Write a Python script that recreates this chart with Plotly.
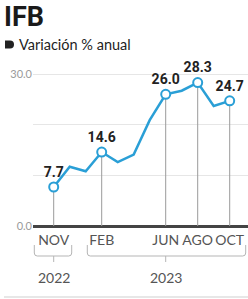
import plotly.graph_objects as go

# Data
months = ["NOV", "DIC", "ENE", "FEB", "MAR", "ABR", "MAY", "JUN", "JUL", "AGO", "SEP", "OCT"]
values = [7.7, 11.7, 10.8, 14.6, 12.6, 14.1, 20.9, 26.0, 26.7, 28.3, 23.7, 24.7]
labeled_idx = [0, 3, 7, 9, 11]
tick_labels = ["NOV", "FEB", "JUN", "AGO", "OCT"]
years = ["2022", "2023"]
year_center_idx = [0, 7]
y_ticks = [0, 10, 20, 30]
y_ticktext = ["0.0", "", "", "30.0"]

BLUE = "#2a9fd6"
GRAY = "#9a9a9a"
FONT = "Lato"

x_all = list(range(len(months)))
lab_x = labeled_idx
lab_y = [values[i] for i in labeled_idx]

fig = go.Figure()
fig.add_trace(go.Scatter(
    x=x_all, y=values, mode="lines",
    line=dict(color=BLUE, width=2.5), hoverinfo="skip", showlegend=False,
))
fig.add_trace(go.Scatter(
    x=lab_x, y=lab_y, mode="markers+text",
    text=[f"{v:.1f}" for v in lab_y], textposition="top center",
    textfont=dict(family="Roboto", size=14, color="#222222", weight="bold"),
    marker=dict(size=9, color="white", line=dict(color=BLUE, width=2)),
    error_y=dict(type="data", symmetric=False, array=[0] * len(lab_y),
                 arrayminus=lab_y, width=0, color=GRAY, thickness=1),
    cliponaxis=False, showlegend=False,
))

# plot area: x 33..248 px, y 60..226 px
PL, PR, PT, PB = 33, 248, 60, 226
px_per_month = 16.0
x0_px = 53.7
x_lo = (PL - x0_px) / px_per_month
x_hi = (PR - x0_px) / px_per_month
y_hi = 30 * (PB - PT) / 152.0

def py(y):
    return (PB - y) / (PB - PT)

def pxp(x):
    return (x - PL) / (PR - PL)

def px(x):
    return (x - x0_px) / px_per_month

shapes = []
line_style = dict(color="#b5b5b5", width=1)
# brackets
brackets = [(34.3, 71.7, 53.7), (87.3, 245.7, 165.7)]
for (l, r, c) in brackets:
    xl, xr, xc = px(l), px(r), px(c)
    r_ = px(l + 3) - xl
    path = (f"M {xl},{py(245)} L {xl},{py(253)} Q {xl},{py(256)} {xl + r_},{py(256)} "
            f"L {xr - r_},{py(256)} Q {xr},{py(256)} {xr},{py(253)} L {xr},{py(245)}")
    shapes.append(dict(type="path", path=path, xref="x", yref="paper", line=line_style))
    shapes.append(dict(type="line", x0=xc, x1=xc, y0=py(256), y1=py(262),
                       xref="x", yref="paper", line=line_style))
# bottom rule
shapes.append(dict(type="line", x0=pxp(4), x1=pxp(248), y0=py(297), y1=py(297),
                   xref="paper", yref="paper", line=dict(color="#cfcfcf", width=1)))
# subtitle marker
mk = (f"M {pxp(5)},{py(40.5)} L {pxp(10)},{py(40.5)} Q {pxp(14)},{py(40.5)} {pxp(14)},{py(44.5)} "
      f"Q {pxp(14)},{py(48.5)} {pxp(10)},{py(48.5)} L {pxp(5)},{py(48.5)} Z")
shapes.append(dict(type="path", path=mk, xref="paper", yref="paper",
                   fillcolor="#222222", line=dict(width=0)))

annotations = []
for yr, ci in zip(years, year_center_idx):
    annotations.append(dict(x=ci, y=py(277), xref="x", yref="paper", text=yr,
                            showarrow=False, font=dict(family=FONT, size=14, color="#555555"),
                            xanchor="center", yanchor="middle"))
# subtitle
annotations.append(dict(x=pxp(17), y=py(44.5), xref="paper", yref="paper",
                        text="Variación % anual", showarrow=False,
                        xanchor="left", yanchor="middle",
                        font=dict(family=FONT, size=14.5, color="#1e1e1e")))

fig.update_layout(
    width=248, height=299,
    margin=dict(l=PL, r=248 - PR, t=PT, b=299 - PB, autoexpand=False),
    paper_bgcolor="white", plot_bgcolor="white",
    shapes=shapes, annotations=annotations,
    title=dict(text="<b>IFB</b>", x=0, xref="container", xanchor="left",
               y=1, yref="container", yanchor="top", pad=dict(l=4, t=7),
               font=dict(family="Roboto", size=27, color="#1a1a1a")),
    xaxis=dict(range=[x_lo, x_hi], tickvals=lab_x, ticktext=tick_labels,
               showgrid=False, zeroline=False, showline=False, ticks="",
               automargin=False, tickangle=0, ticklabelstandoff=4,
               tickfont=dict(family=FONT, size=14, color="#555555"), fixedrange=True),
    yaxis=dict(range=[0, y_hi], tickvals=y_ticks, ticktext=y_ticktext,
               showgrid=True, gridcolor="#e6e6e6", gridwidth=1,
               zeroline=True, zerolinecolor="#444444", zerolinewidth=2.5,
               showline=False, ticks="", automargin=False,
               tickfont=dict(family=FONT, size=11, color="#9a9a9a"), fixedrange=True),
    showlegend=False,
)

fig.write_html("out.html", config={"displayModeBar": False},
               post_script="document.body.style.margin='0';document.body.style.overflow='hidden';")
